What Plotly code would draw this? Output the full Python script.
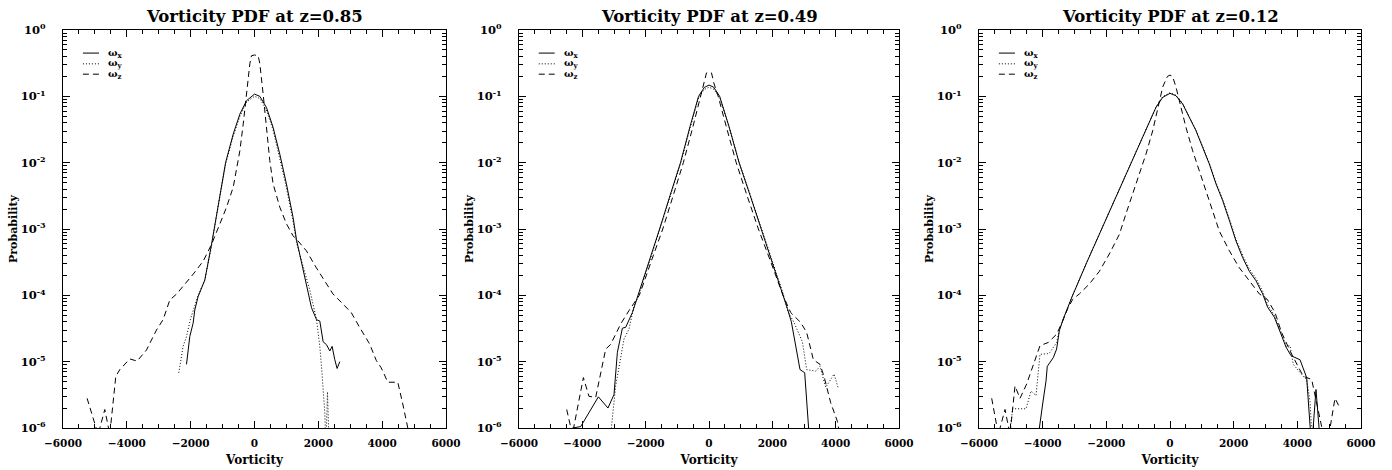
import plotly.graph_objects as go

# ---------------- data ----------------
# z = 0.85
z085_wx_x = [-2131, -2049, -2027, -1923, -1871, -1769, -1557, -1345, -1125, -906, -667, -458, -250, 0,
             167, 375, 583, 792, 1000, 1208, 1316, 1523, 1629, 1786, 1943, 2046, 2150, 2256, 2360, 2432,
             2516, 2588, 2673]
z085_wx_p = [9.1e-6, 2.1e-5, 2.4e-5, 3.8e-5, 6.0e-5, 9.5e-5, 1.7e-4, 5.9e-4, 2.5e-3, 1.0e-2, 2.7e-2, 5.4e-2,
             8.6e-2, 0.108, 0.100, 0.068, 0.034, 0.0135, 0.0048, 0.0015, 6.9e-4, 2.5e-4, 1.35e-4, 6.5e-5,
             4.3e-5, 4.1e-5, 2.0e-5, 1.8e-5, 1.45e-5, 1.7e-5, 1.07e-5, 7.9e-6, 1.0e-5]
z085_wy_x = [-2372, -2237, -2131, -2000, -1870, -1769, -1557, -1345, -1125, -906, -667, -458, -250, 0,
             167, 375, 583, 792, 1000, 1208, 1316, 1523, 1733, 1943, 2046, 2099, 2150, 2203, 2235, 2287, 2340]
z085_wy_p = [6.8e-6, 1.7e-5, 2.4e-5, 4.5e-5, 7.0e-5, 1.0e-4, 1.7e-4, 5.6e-4, 2.4e-3, 9.5e-3, 2.5e-2, 5.0e-2,
             8.2e-2, 0.100, 0.093, 0.062, 0.031, 0.012, 0.0042, 0.0013, 6.2e-4, 2.75e-4, 1.2e-4, 4.3e-5,
             1.7e-5, 8.5e-6, 3.4e-6, 1.7e-6, 5e-7, 3.5e-6, 5e-7]
z085_wz_x = [-5245, -4900, -4690, -4534, -4346, -4220, -3907, -3678, -3384, -3071, -2863, -2654, -2438,
             -2178, -1917, -1604, -1344, -1083, -875, -667, -562, -458, -354, -250, -146, -94, 0, 115, 167,
             271, 375, 479, 583, 792, 1000, 1208, 1365, 1625, 1938, 2250, 2458, 2771, 3031, 3292, 3604,
             3813, 3969, 4177, 4490, 4646, 4802, 4900]
z085_wz_p = [2.8e-6, 8e-7, 1.9e-6, 8e-7, 6.0e-6, 7.6e-6, 1.1e-5, 1.02e-5, 1.5e-5, 3.0e-5, 4.3e-5, 8.5e-5,
             1.05e-4, 1.48e-4, 2.1e-4, 3.3e-4, 5.9e-4, 1.2e-3, 2.14e-3, 4.27e-3, 7.6e-3, 1.51e-2, 3.8e-2,
             0.108, 0.31, 0.41, 0.42, 0.41, 0.31, 0.108, 0.034, 0.0107, 0.00479, 0.00214, 0.0012, 7.9e-4,
             6.6e-4, 4.7e-4, 2.6e-4, 1.48e-4, 1.05e-4, 7.4e-5, 5.5e-5, 3.3e-5, 1.86e-5, 1.05e-5, 8.1e-6,
             4.9e-6, 4.9e-6, 2.3e-6, 1.0e-6, 6e-7]

# z = 0.49
z049_wx_x = [-4315, -4052, -3494, -3190, -3000, -2893, -2735, -2630, -2419, -2240, -1900, -1560, -1230,
             -900, -600, -330, -150, 0, 150, 337, 640, 950, 1300, 1653, 2000, 2337, 2476, 2600, 2738,
             2874, 3022, 3190]
z049_wx_p = [1.0e-6, 1.05e-6, 2.95e-6, 2.0e-6, 3.2e-6, 1.38e-5, 3.2e-5, 3.3e-5, 5.5e-5, 1.0e-4, 3.2e-4,
             1.0e-3, 3.2e-3, 1.0e-2, 3.5e-2, 0.100, 0.136, 0.148, 0.137, 0.100, 0.034, 0.010, 3.2e-3,
             1.0e-3, 3.2e-4, 1.0e-4, 6.3e-5, 4.0e-5, 1.74e-5, 7.6e-6, 6.8e-6, 5e-7]
z049_wy_x = [-3105, -2947, -2684, -2526, -2368, -2240, -1900, -1560, -1230, -900, -600, -330, -150, 0,
             150, 337, 640, 950, 1300, 1653, 2000, 2337, 2500, 2685, 2948, 3085, 3370, 3506, 3685,
             3948, 4074]
z049_wy_p = [8e-7, 4.3e-6, 2.2e-5, 3.1e-5, 6.9e-5, 9.5e-5, 3.0e-4, 9.6e-4, 3.1e-3, 9.6e-3, 3.3e-2, 0.095,
             0.127, 0.137, 0.128, 0.096, 0.034, 0.0102, 3.3e-3, 1.05e-3, 3.4e-4, 1.08e-4, 5.6e-5, 3.9e-5,
             2.0e-5, 7.6e-6, 7.2e-6, 8.5e-6, 4.1e-6, 6.5e-6, 4.1e-6]
z049_wz_x = [-4494, -4315, -3967, -3790, -3578, -3262, -3105, -2789, -2526, -2200, -1830, -1460, -1130,
             -810, -520, -260, -150, -80, 0, 80, 150, 290, 560, 860, 1200, 1560, 1950, 2337, 2580, 2895,
             3085, 3296, 3506, 3632, 3843, 4054, 4150]
z049_wz_p = [1.9e-6, 8e-7, 5.75e-6, 3.0e-6, 2.9e-6, 1.55e-5, 1.82e-5, 3.7e-5, 5.9e-5, 1.0e-4, 3.2e-4,
             1.0e-3, 3.2e-3, 1.0e-2, 3.3e-2, 0.100, 0.160, 0.225, 0.232, 0.225, 0.160, 0.100, 0.033,
             0.010, 3.2e-3, 1.0e-3, 3.2e-4, 1.0e-4, 5.5e-5, 3.9e-5, 2.75e-5, 1.07e-5, 9.1e-6, 6.0e-6,
             2.4e-6, 1.26e-6, 7e-7]

# z = 0.12
z012_wx_x = [-4250, -4104, -4000, -3895, -3855, -3666, -3562, -3476, -3352, -3078, -2611, -2146, -1679,
             -1215, -751, -440, -230, 0, 188, 398, 607, 817, 1026, 1235, 1445, 1654, 1864, 2073, 2283,
             2492, 2701, 2911, 3068, 3277, 3487, 3644, 3801, 4084, 4293, 4450, 4586, 4733]
z012_wx_p = [5e-7, 1.0e-6, 2.3e-6, 5.1e-6, 8.5e-6, 1.15e-5, 1.55e-5, 2.95e-5, 4.4e-5, 9.5e-5, 3.16e-4,
             1.0e-3, 3.16e-3, 1.0e-2, 3.16e-2, 6.82e-2, 9.66e-2, 0.111, 0.102, 0.0766, 0.0482, 0.0303,
             0.017, 0.00955, 0.00479, 0.00269, 0.00135, 6.6e-4, 3.7e-4, 2.3e-4, 1.66e-4, 1.05e-4, 6.6e-5,
             4.7e-5, 2.6e-5, 1.66e-5, 1.23e-5, 1.07e-5, 5.75e-6, 5e-7, 3.8e-6, 5e-7]
z012_wy_x = [-5100, -4942, -4523, -4366, -4209, -4084, -3842, -3770, -3560, -3476, -3352, -3078, -2611,
             -2146, -1679, -1215, -751, -440, -230, 0, 188, 398, 607, 817, 1026, 1235, 1445, 1654, 1864,
             2073, 2283, 2492, 2701, 2911, 3068, 3277, 3487, 3644, 3770, 3874, 4188, 4293, 4400, 4480]
z012_wy_p = [5e-7, 1.95e-6, 1.95e-6, 3.6e-6, 3.1e-6, 1.29e-5, 1.32e-5, 1.38e-5, 1.95e-5, 2.95e-5, 4.4e-5,
             9.5e-5, 3.2e-4, 1.0e-3, 3.2e-3, 1.0e-2, 3.2e-2, 6.9e-2, 9.9e-2, 0.113, 0.104, 0.078, 0.049,
             0.031, 0.0175, 0.0099, 0.0050, 0.0028, 0.00142, 7.0e-4, 4.0e-4, 2.5e-4, 1.8e-4, 1.15e-4,
             7.2e-5, 5.0e-5, 2.8e-5, 1.7e-5, 1.74e-5, 9.1e-6, 6.0e-6, 5.4e-6, 2.5e-6, 5e-7]
z012_wz_x = [-5601, -5393, -5183, -5026, -4869, -4712, -4503, -4188, -4084, -3822, -3560, -3380, -3214,
             -3057, -2848, -2534, -2220, -1906, -1591, -1382, -1173, -963, -754, -544, -387, -230, -80, 0,
             80, 188, 345, 503, 712, 921, 1131, 1340, 1549, 1864, 2178, 2492, 2806, 3057, 3298, 3500,
             3770, 4000, 4188, 4450, 4650, 4816, 4950, 5183, 5340]
z012_wz_p = [2.8e-6, 8e-7, 1.9e-6, 8e-7, 4.3e-6, 2.8e-6, 4.6e-6, 1.2e-5, 1.74e-5, 1.95e-5, 2.6e-5, 4.0e-5,
             6.3e-5, 8.7e-5, 1.05e-4, 1.48e-4, 2.3e-4, 4.2e-4, 8.3e-4, 1.7e-3, 3.39e-3, 6.76e-3, 1.35e-2,
             3.02e-2, 6.82e-2, 0.138, 0.20, 0.209, 0.20, 0.138, 0.0682, 0.0339, 0.0151, 0.00759, 0.0038,
             0.0019, 9.3e-4, 4.7e-4, 2.6e-4, 1.66e-4, 1.05e-4, 8.7e-5, 5.5e-5, 2.8e-5, 1.45e-5, 8.9e-6,
             6.0e-6, 5.4e-6, 2.0e-6, 8e-7, 6e-7, 2.8e-6, 2.0e-6]

panel_titles = ["Vorticity PDF at z=0.85", "Vorticity PDF at z=0.49", "Vorticity PDF at z=0.12"]
series_names = ["ω<sub>x</sub>", "ω<sub>y</sub>", "ω<sub>z</sub>"]
x_tick_vals = [-6000, -4000, -2000, 0, 2000, 4000, 6000]
y_tick_vals = [1e-6, 1e-5, 1e-4, 1e-3, 1e-2, 1e-1, 1]
y_tick_text = ["10<sup>-6</sup>", "10<sup>-5</sup>", "10<sup>-4</sup>", "10<sup>-3</sup>",
               "10<sup>-2</sup>", "10<sup>-1</sup>", "10<sup>0</sup>"]
x_axis_title = "Vorticity"
y_axis_title = "Probability"

panels = [
    [(z085_wx_x, z085_wx_p), (z085_wy_x, z085_wy_p), (z085_wz_x, z085_wz_p)],
    [(z049_wx_x, z049_wx_p), (z049_wy_x, z049_wy_p), (z049_wz_x, z049_wz_p)],
    [(z012_wx_x, z012_wx_p), (z012_wy_x, z012_wy_p), (z012_wz_x, z012_wz_p)],
]

# ---------------- styling ----------------
W, H = 1392, 470
x_domains = [[63 / W, 446 / W], [519 / W, 899 / W], [979 / W, 1361 / W]]
dash_styles = ["solid", "1px,2px", "6px,4px"]
FONT = "DejaVu Serif"
legend_rows = [0.942, 0.915, 0.889]

fig = go.Figure()
layout = dict(
    width=W, height=H,
    margin=dict(l=0, r=0, t=30, b=42),
    paper_bgcolor="white", plot_bgcolor="white",
    showlegend=False, hovermode=False,
    font=dict(family=FONT, color="black"),
)
annotations = []
shapes = []

for i, series in enumerate(panels):
    sfx = "" if i == 0 else str(i + 1)
    for j, (xs, ps) in enumerate(series):
        fig.add_trace(go.Scatter(
            x=xs, y=ps, mode="lines", name=series_names[j],
            xaxis="x" + sfx, yaxis="y" + sfx,
            line=dict(color="black", width=1, dash=dash_styles[j]),
        ))
    layout["xaxis" + sfx] = dict(
        domain=x_domains[i], anchor="y" + sfx, range=[-6000, 6000], automargin=False,
        tickvals=x_tick_vals, ticks="inside", ticklen=7, tickcolor="black", tickwidth=1,
        minor=dict(dtick=500, tick0=0, ticks="inside", ticklen=4, tickcolor="black", showgrid=False),
        showline=True, linecolor="black", linewidth=1, mirror="ticks",
        showgrid=False, zeroline=False,
        tickfont=dict(family=FONT, size=10.5, weight="bold", color="black"),
        ticklabelstandoff=5,
        title=dict(text=x_axis_title, font=dict(family=FONT, size=12, weight="bold", color="black"),
                   standoff=8),
    )
    layout["yaxis" + sfx] = dict(
        domain=[0, 1], anchor="x" + sfx, type="log", range=[-6, 0], automargin=False,
        tickvals=y_tick_vals, ticktext=y_tick_text,
        ticks="inside", ticklen=7, tickcolor="black", tickwidth=1,
        minor=dict(dtick="D1", ticks="inside", ticklen=4, tickcolor="black", showgrid=False),
        showline=True, linecolor="black", linewidth=1, mirror="ticks",
        showgrid=False, zeroline=False,
        tickfont=dict(family=FONT, size=11.5, weight="bold", color="black"),
        ticklabelstandoff=14,
        title=dict(text=y_axis_title, font=dict(family=FONT, size=11, weight="bold", color="black"),
                   standoff=0),
    )
    annotations.append(dict(
        text=panel_titles[i], xref="x" + sfx + " domain", yref="y" + sfx + " domain",
        x=0.5, y=1, xanchor="center", yanchor="bottom", yshift=2, showarrow=False,
        font=dict(family=FONT, size=16.5, weight="bold", color="black"),
    ))
    for j in range(3):
        shapes.append(dict(
            type="line", xref="x" + sfx + " domain", yref="y" + sfx + " domain",
            x0=0.052, x1=0.094, y0=legend_rows[j], y1=legend_rows[j],
            line=dict(color="black", width=1, dash=dash_styles[j]),
        ))
        annotations.append(dict(
            text=series_names[j], xref="x" + sfx + " domain", yref="y" + sfx + " domain",
            x=0.112, y=legend_rows[j], xanchor="left", yanchor="middle", showarrow=False,
            font=dict(family=FONT, size=10, weight="bold", color="black"),
        ))

layout["annotations"] = annotations
layout["shapes"] = shapes
fig.update_layout(**layout)
fig.write_html("out.html", config={"displayModeBar": False, "staticPlot": True},
               post_script="document.body.style.margin='0px';")
